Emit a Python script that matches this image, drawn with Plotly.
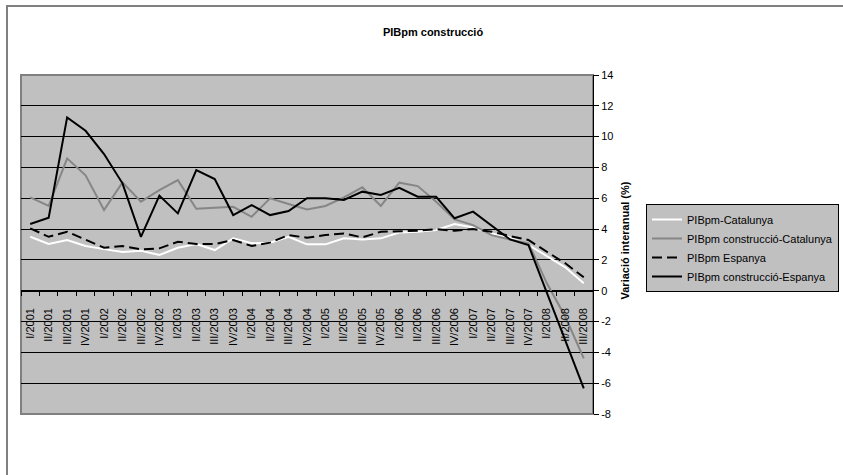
import plotly.graph_objects as go

categories = [
    "I/2001", "II/2001", "III/2001", "IV/2001",
    "I/2002", "II/2002", "III/2002", "IV/2002",
    "I/2003", "II/2003", "III/2003", "IV/2003",
    "I/2004", "II/2004", "III/2004", "IV/2004",
    "I/2005", "II/2005", "III/2005", "IV/2005",
    "I/2006", "II/2006", "III/2006", "IV/2006",
    "I/2007", "II/2007", "III/2007", "IV/2007",
    "I/2008", "II/2008", "III/2008",
]

pib_catalunya = [3.5, 3.03, 3.29, 2.9, 2.7, 2.51, 2.6, 2.32, 2.79, 3.03, 2.64,
                 3.4, 3.08, 3.12, 3.5, 3.01, 3.01, 3.4, 3.33, 3.4, 3.78,
                 3.83, 3.94, 4.33, 4.11, 3.72, 3.46, 2.97, 2.25, 1.52, 0.48]

pib_constr_catalunya = [6.06, 5.5, 8.59, 7.49, 5.24, 7.03, 5.78, 6.53, 7.18, 5.32, 5.39,
                        5.45, 4.8, 6.0, 5.63, 5.28, 5.5, 6.06, 6.71, 5.5, 7.01,
                        6.79, 5.78, 4.63, 4.26, 3.61, 3.33, 3.08, 0.48, -1.69, -4.39]

pib_espanya = [4.05, 3.5, 3.83, 3.33, 2.79, 2.9, 2.68, 2.75, 3.18, 3.03, 3.03,
               3.29, 2.9, 3.12, 3.61, 3.44, 3.61, 3.72, 3.46, 3.83, 3.87,
               3.89, 4.0, 3.89, 4.0, 3.83, 3.55, 3.29, 2.53, 1.78, 0.87]

pib_constr_espanya = [4.33, 4.74, 11.25, 10.38, 8.87, 6.97, 3.5, 6.17, 5.02, 7.83, 7.25,
                      4.91, 5.56, 4.91, 5.17, 6.0, 6.0, 5.89, 6.43, 6.21, 6.68,
                      6.1, 6.1, 4.7, 5.13, 4.2, 3.33, 2.97, -0.1, -3.3, -6.33]

series_names = ["PIBpm-Catalunya", "PIBpm construcció-Catalunya",
                "PIBpm Espanya", "PIBpm construcció-Espanya"]

y_tickvals = [-8, -6, -4, -2, 0, 2, 4, 6, 8, 10, 12, 14]
y_ticktext = ["-8", "-6", "-4", "-2", "0", "2", "4", "6", "8", "10", "12", "14"]

FONT = "Arial, 'Liberation Sans', sans-serif"

fig = go.Figure()
styles = [
    dict(color="#FFFFFF", width=2),
    dict(color="#868686", width=2),
    dict(color="#000000", width=2, dash="10px,5px"),
    dict(color="#000000", width=2),
]
for name, vals, st in zip(series_names,
                          [pib_catalunya, pib_constr_catalunya, pib_espanya, pib_constr_espanya],
                          styles):
    fig.add_trace(go.Scatter(x=categories, y=vals, mode="lines", name=name, line=st))

fig.update_layout(
    width=843, height=475,
    margin=dict(l=21, r=250, t=75, b=61, autoexpand=False),
    paper_bgcolor="#FFFFFF",
    plot_bgcolor="#C0C0C0",
    font=dict(family=FONT, color="#000000", size=11),
    title=dict(text="<b>PIBpm construcció</b>", x=433 / 843, y=1 - 32 / 475,
               xanchor="center", yanchor="middle", font=dict(size=11, family=FONT)),
    xaxis=dict(
        type="category", anchor="free", position=8 / 22,
        showline=True, linecolor="#000000", linewidth=1,
        ticks="outside", ticklen=4, tickcolor="#000000", tickson="boundaries",
        tickangle=-90, tickfont=dict(size=11, family=FONT),
        ticklabelstandoff=12,
        showgrid=False, zeroline=False, range=[-0.5, 30.5],
    ),
    yaxis=dict(
        side="right", range=[-8, 14], tickvals=y_tickvals, ticktext=y_ticktext,
        showline=True, linecolor="#000000", linewidth=1,
        ticks="outside", ticklen=5, tickcolor="#000000",
        tickfont=dict(size=11, family=FONT),
        showgrid=True, gridcolor="#000000", gridwidth=1, zeroline=False,
    ),
    legend=dict(
        x=(646 - 21) / 572, y=(414 - 204) / 339, xanchor="left", yanchor="top",
        bgcolor="#C0C0C0", bordercolor="#000000", borderwidth=1,
        font=dict(size=11, family=FONT),
    ),
    shapes=[
        dict(type="rect", xref="paper", yref="paper", x0=0, x1=1, y0=0, y1=1,
             line=dict(color="#808080", width=2), layer="below"),
        dict(type="rect", xref="paper", yref="paper",
             x0=(7 - 21) / 572, x1=(900 - 21) / 572,
             y0=(414 - 520) / 339, y1=(414 - 6) / 339,
             line=dict(color="#808080", width=2), layer="above"),
    ],
    annotations=[
        dict(text="<b>Variació interanual (%)</b>", xref="paper", yref="paper",
             x=(625 - 21) / 572, y=(414 - 240.5) / 339, textangle=-90,
             showarrow=False, font=dict(size=11, family=FONT),
             xanchor="center", yanchor="middle"),
    ],
)

fig.write_html("out.html", config={"displayModeBar": False},
               post_script="document.body.style.margin='0';")
